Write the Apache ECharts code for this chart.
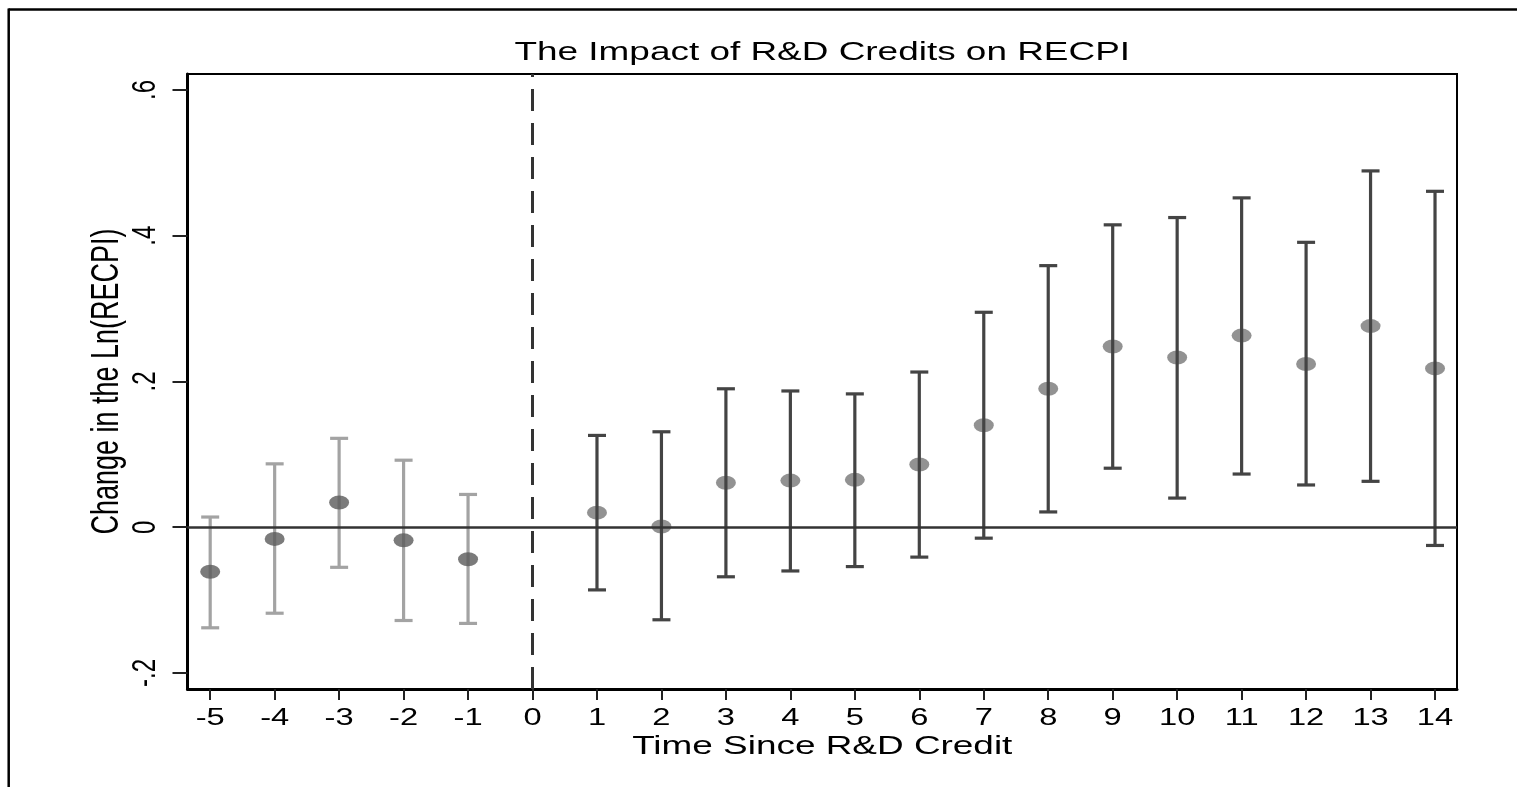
<!DOCTYPE html>
<html>
<head>
<meta charset="utf-8">
<title>The Impact of R&amp;D Credits on RECPI</title>
<script src="https://cdn.jsdelivr.net/npm/echarts@6/dist/echarts.min.js"></script>
<style>
  html, body { margin: 0; padding: 0; background: #fff; }
  #chart { width: 1517px; height: 787px; }
</style>
</head>
<body>
<div id="chart"></div>
<script>
// Event-study estimates: years relative to the R&D credit
const prePeriods  = [-5, -4, -3, -2, -1];
const preEstimate = [-0.061, -0.016, 0.034, -0.018, -0.044];
const preLower    = [-0.138, -0.118, -0.055, -0.128, -0.132];
const preUpper    = [0.014, 0.087, 0.122, 0.092, 0.045];

const postPeriods  = [1, 2, 3, 4, 5, 6, 7, 8, 9, 10, 11, 12, 13, 14];
const postEstimate = [0.020, 0.001, 0.061, 0.064, 0.065, 0.086, 0.140, 0.190, 0.248, 0.233, 0.263, 0.224, 0.276, 0.218];
const postLower    = [-0.086, -0.127, -0.068, -0.060, -0.054, -0.041, -0.015, 0.021, 0.081, 0.040, 0.073, 0.058, 0.063, -0.025];
const postUpper    = [0.126, 0.131, 0.190, 0.187, 0.183, 0.213, 0.295, 0.359, 0.415, 0.425, 0.452, 0.391, 0.489, 0.461];

const xTicks = [-5, -4, -3, -2, -1, 0, 1, 2, 3, 4, 5, 6, 7, 8, 9, 10, 11, 12, 13, 14];
const yTicks = [-0.2, 0, 0.2, 0.4, 0.6];
const yTickLabels = ['-.2', '0', '.2', '.4', '.6'];

const titleText = 'The Impact of R&D Credits on RECPI';
const xTitle = 'Time Since R&D Credit';
const yTitle = 'Change in the Ln(RECPI)';

const FONT = '"Liberation Sans", Arial, sans-serif';
// Stata-style lettering is drawn wide: glyphs are stretched across the page
const STRETCH = 1.42;

function pointsOf(periods, est) {
  return periods.map((p, i) => [p, est[i]]);
}
function barsOf(periods, lo, hi) {
  return periods.map((p, i) => [p, lo[i], hi[i]]);
}

// Vertical whisker with caps at both ends
function makeErrorBar(color) {
  return function (params, api) {
    const x = api.value(0);
    const lo = api.coord([x, api.value(1)]);
    const hi = api.coord([x, api.value(2)]);
    const half = 9;
    const style = { stroke: color, lineWidth: 3.2 };
    return {
      type: 'group',
      children: [
        { type: 'line', shape: { x1: lo[0], y1: lo[1], x2: hi[0], y2: hi[1] }, style },
        { type: 'line', shape: { x1: lo[0] - half, y1: lo[1], x2: lo[0] + half, y2: lo[1] }, style },
        { type: 'line', shape: { x1: hi[0] - half, y1: hi[1], x2: hi[0] + half, y2: hi[1] }, style }
      ]
    };
  };
}

const chart = echarts.init(document.getElementById('chart'), null, { renderer: 'canvas' });

chart.setOption({
  backgroundColor: '#ffffff',
  animation: false,
  grid: {
    left: 187.5, top: 74, right: 60, bottom: 98,
    show: true, borderColor: '#000', borderWidth: 2, backgroundColor: '#fff'
  },
  xAxis: {
    type: 'value',
    min: -5.352,
    max: 14.341,
    axisLine: { show: true, onZero: false, lineStyle: { color: '#000', width: 3 } },
    axisTick: { show: true, customValues: xTicks, length: 11, lineStyle: { color: '#222', width: 2 } },
    axisLabel: { show: false },
    splitLine: { show: false }
  },
  yAxis: {
    type: 'value',
    min: -0.222,
    max: 0.622,
    axisLine: { show: true, onZero: false, lineStyle: { color: '#000', width: 3 } },
    axisTick: { show: true, customValues: yTicks, length: 15, lineStyle: { color: '#222', width: 2 } },
    axisLabel: { show: false },
    splitLine: { show: false }
  },
  series: [
    {
      name: 'reference',
      type: 'line',
      data: [],
      silent: true,
      markLine: {
        silent: true,
        symbol: 'none',
        label: { show: false },
        animation: false,
        data: [
          { yAxis: 0, lineStyle: { color: '#333', width: 2.5, type: 'solid' } },
          { xAxis: 0, lineStyle: { color: '#333', width: 3, type: [22, 12] } }
        ]
      }
    },
    {
      name: 'pre CI',
      type: 'custom',
      renderItem: makeErrorBar('#a3a3a3'),
      data: barsOf(prePeriods, preLower, preUpper),
      encode: { x: 0, y: [1, 2] },
      z: 3
    },
    {
      name: 'pre estimate',
      type: 'scatter',
      symbol: 'circle',
      symbolSize: [20, 14],
      itemStyle: { color: '#5a5a5a' },
      data: pointsOf(prePeriods, preEstimate),
      z: 4
    },
    {
      name: 'post estimate',
      type: 'scatter',
      symbol: 'circle',
      symbolSize: [20, 14],
      itemStyle: { color: '#777777' },
      data: pointsOf(postPeriods, postEstimate),
      z: 3
    },
    {
      name: 'post CI',
      type: 'custom',
      renderItem: makeErrorBar('#444444'),
      data: barsOf(postPeriods, postLower, postUpper),
      encode: { x: 0, y: [1, 2] },
      itemStyle: { opacity: 0.92 },
      z: 4
    }
  ]
});

// Text is laid out from the axes' own pixel scales, then stretched horizontally
const px = v => chart.convertToPixel({ xAxisIndex: 0 }, v);
const py = v => chart.convertToPixel({ yAxisIndex: 0 }, v);
const plotLeft = px(-5.352), plotRight = px(14.341);
const plotTop = py(0.622), plotBottom = py(-0.222);
const midX = (plotLeft + plotRight) / 2;
const midY = (plotTop + plotBottom) / 2;

function hText(text, x, y, size) {
  return {
    type: 'text', x, y, scaleX: STRETCH, silent: true, z: 10,
    style: { text, font: size + 'px ' + FONT, fill: '#000', align: 'center', verticalAlign: 'middle' }
  };
}
function vText(text, x, y, size) {
  return {
    type: 'text', x, y, rotation: Math.PI / 2, scaleY: STRETCH, silent: true, z: 10,
    style: { text, font: size + 'px ' + FONT, fill: '#000', align: 'center', verticalAlign: 'middle' }
  };
}

const graphics = [
  // figure frame (top and left edges)
  { type: 'line', shape: { x1: 8.5, y1: 9.5, x2: 1517, y2: 9.5 }, style: { stroke: '#000', lineWidth: 2.5 }, silent: true },
  { type: 'line', shape: { x1: 8.7, y1: 8.5, x2: 8.7, y2: 787 }, style: { stroke: '#000', lineWidth: 2.5 }, silent: true },
  hText(titleText, midX, 53, 26),
  hText(xTitle, midX, plotBottom + 58, 26)
];
xTicks.forEach(t => graphics.push(hText(String(t), px(t), plotBottom + 30, 23)));
yTicks.forEach((t, i) => graphics.push(vText(yTickLabels[i], plotLeft - 42, py(t), 24)));
graphics.push(vText(yTitle, plotLeft - 80, midY, 27));

chart.setOption({ graphic: graphics });
</script>
</body>
</html>
